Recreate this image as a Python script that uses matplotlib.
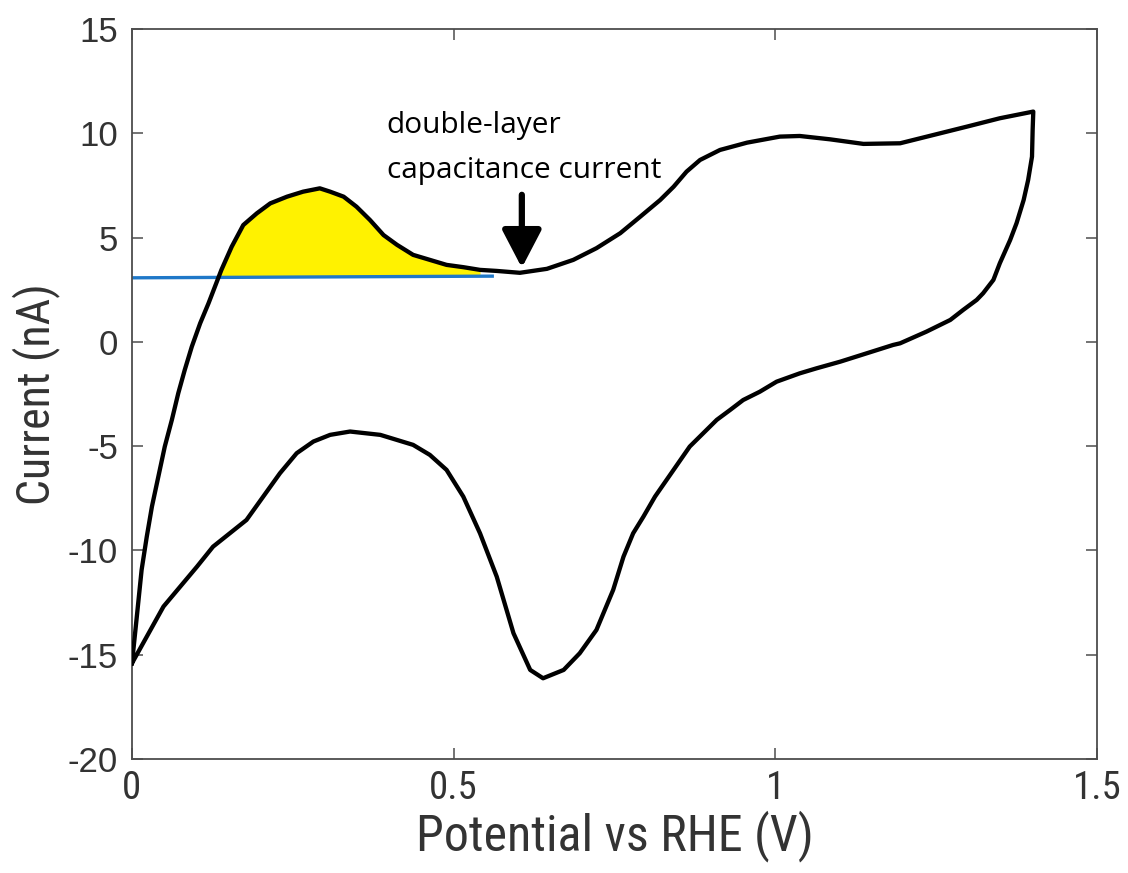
import numpy as np
import matplotlib.pyplot as plt
from matplotlib import font_manager
from matplotlib.font_manager import FontProperties

# Cyclic voltammogram, anodic (forward) sweep
fwd_v = [0.000, 0.007, 0.015, 0.023, 0.031, 0.041, 0.051, 0.062, 0.072, 0.082,
         0.093, 0.106, 0.119, 0.129, 0.139, 0.155, 0.173, 0.194, 0.215, 0.241,
         0.266, 0.292, 0.308, 0.329, 0.349, 0.370, 0.391, 0.412, 0.437, 0.463,
         0.489, 0.515, 0.541, 0.567, 0.603, 0.645, 0.686, 0.722, 0.759, 0.790,
         0.821, 0.842, 0.862, 0.883, 0.914, 0.956, 1.007, 1.038, 1.085, 1.137,
         1.194, 1.246, 1.298, 1.349, 1.401]
fwd_i = [-15.41, -13.33, -10.93, -9.34, -7.90, -6.46, -5.02, -3.74, -2.46, -1.35,
         -0.23, 0.89, 1.85, 2.65, 3.45, 4.56, 5.60, 6.16, 6.64, 6.96,
         7.20, 7.36, 7.20, 6.96, 6.48, 5.84, 5.12, 4.65, 4.17, 3.93,
         3.69, 3.58, 3.45, 3.40, 3.31, 3.50, 3.93, 4.49, 5.21, 6.00,
         6.80, 7.44, 8.16, 8.72, 9.20, 9.55, 9.84, 9.87, 9.71, 9.49,
         9.52, 9.92, 10.32, 10.72, 11.04]

# cathodic (reverse) sweep
rev_v = [1.401, 1.400, 1.399, 1.393, 1.386, 1.375, 1.365, 1.349, 1.339, 1.323,
         1.313, 1.292, 1.272, 1.235, 1.194, 1.183, 1.142, 1.101, 1.064, 1.038,
         1.002, 0.976, 0.950, 0.930, 0.909, 0.888, 0.867, 0.849, 0.831, 0.813,
         0.795, 0.779, 0.764, 0.748, 0.722, 0.696, 0.671, 0.639, 0.619, 0.593,
         0.567, 0.541, 0.515, 0.489, 0.463, 0.437, 0.386, 0.339, 0.308, 0.282,
         0.256, 0.230, 0.204, 0.178, 0.152, 0.126, 0.101, 0.049, 0.000]
rev_i = [11.04, 10.16, 8.88, 7.76, 6.80, 5.69, 4.88, 3.77, 2.97, 2.33,
         2.01, 1.53, 1.05, 0.49, -0.07, -0.15, -0.55, -0.95, -1.27, -1.51,
         -1.91, -2.39, -2.79, -3.26, -3.74, -4.38, -5.02, -5.82, -6.62, -7.42,
         -8.38, -9.18, -10.30, -11.89, -13.81, -14.93, -15.73, -16.13, -15.73, -13.97,
         -11.26, -9.18, -7.42, -6.14, -5.42, -4.94, -4.46, -4.30, -4.46, -4.78,
         -5.34, -6.30, -7.42, -8.54, -9.18, -9.82, -10.78, -12.69, -15.41]

# double-layer baseline under the hydrogen desorption peak
base_v = [0.0, 0.56]
base_i = [3.07, 3.15]

# annotation arrow (tail, tip) and its two text lines
arrow_v = 0.606
arrow_i = [7.05, 3.55]
note_lines = ['double-layer', 'capacitance current']
note_x = 0.396
note_y = [10.0, 7.85]

# pick a narrow sans face for the axis labels if one is installed
narrow_file = None
pref = ['Liberation Sans Narrow', 'Arial Narrow', 'Roboto Condensed',
        'Noto Sans Condensed', 'Open Sans Condensed', 'DejaVu Sans Condensed']
fonts = font_manager.fontManager.ttflist
for name in pref:
    hits = [f for f in fonts if f.name == name and f.style == 'normal'
            and f.weight in (400, 'normal', 'regular')]
    if hits:
        narrow_file = hits[0].fname
        break
if narrow_file is None:
    for f in fonts:
        if (f.name in ('Liberation Sans', 'Noto Sans', 'Roboto', 'Open Sans', 'DejaVu Sans')
                and f.stretch in ('condensed', 'semi-condensed') and f.style == 'normal'
                and f.weight in (400, 'normal', 'regular')):
            narrow_file = f.fname
            break

if narrow_file:
    lab_font = FontProperties(fname=narrow_file)
    xt_size, xl_size, yl_size = 28, 36, 33
else:
    lab_font = FontProperties(family='Liberation Sans')
    xt_size, xl_size, yl_size = 23, 30, 27

fig = plt.figure(figsize=(11.28, 8.73), dpi=100)
ax = fig.add_axes([0.117, 0.1306, 0.8555, 0.8362])

fv = np.array(fwd_v)
fi = np.array(fwd_i)
bl = np.interp(fv, base_v, base_i)
mask = fv <= base_v[1]
ax.fill_between(fv[mask], bl[mask], fi[mask], where=fi[mask] > bl[mask],
                interpolate=True, color='#fff200', lw=0, zorder=1)

ax.plot(np.concatenate([fwd_v, rev_v]), np.concatenate([fwd_i, rev_i]),
        color='black', lw=3.1, solid_joinstyle='round', zorder=3)
ax.plot(base_v, base_i, color='#1f78c8', lw=2.4, zorder=2)

ax.annotate('', xy=(arrow_v, arrow_i[1]), xytext=(arrow_v, arrow_i[0]),
            arrowprops=dict(arrowstyle='-|>,head_length=1.15,head_width=0.6',
                            mutation_scale=20, color='black', lw=4.5,
                            shrinkA=0, shrinkB=0),
            zorder=4)
for line, yv in zip(note_lines, note_y):
    ax.text(note_x, yv, line, family='Open Sans', fontsize=21.5,
            color='black', ha='left', va='baseline')

ax.set_xlim(0, 1.5)
ax.set_ylim(-20, 15)
ax.set_xticks([0, 0.5, 1, 1.5])
ax.set_xticklabels(['0', '0.5', '1', '1.5'])
ax.set_yticks(np.arange(-20, 16, 5))
ax.set_yticklabels([str(v) for v in range(-20, 16, 5)])

for s in ax.spines.values():
    s.set_color('#4d4d4d')
    s.set_linewidth(1.3)
ax.tick_params(direction='in', top=True, right=True, length=8, width=1.1,
               color='#4d4d4d', colors='#333333')
for lab in ax.get_xticklabels():
    lab.set_fontproperties(lab_font)
    lab.set_fontsize(xt_size)
for lab in ax.get_yticklabels():
    lab.set_family('Liberation Sans')
    lab.set_fontsize(25)
ax.tick_params(axis='x', pad=8)
ax.tick_params(axis='y', pad=10)

ax.set_xlabel('Potential vs RHE (V)', fontproperties=lab_font, fontsize=xl_size,
              color='#333333', labelpad=2)
ax.set_ylabel('Current (nA)', fontproperties=lab_font, fontsize=yl_size,
              color='#333333', labelpad=6)

fig.savefig('out.png', dpi=100)
